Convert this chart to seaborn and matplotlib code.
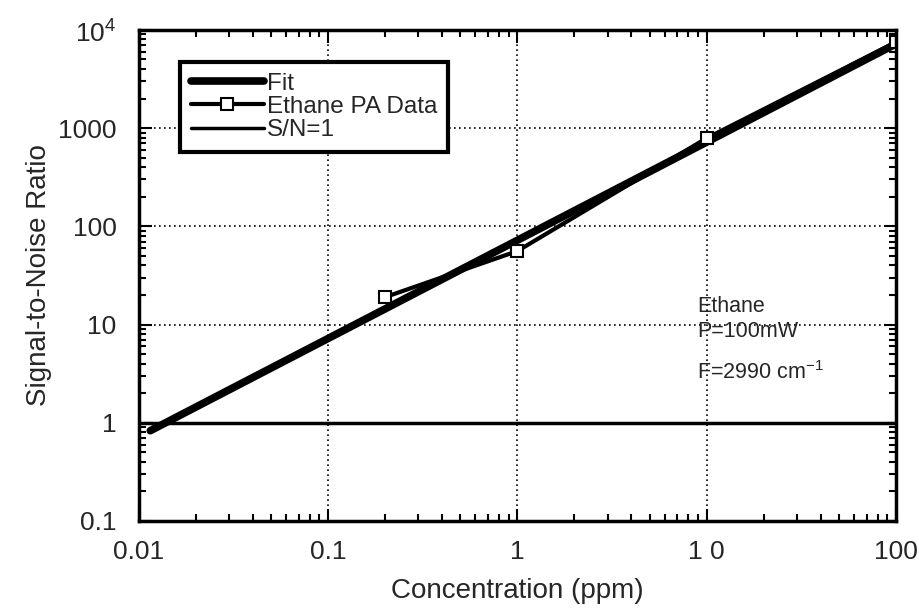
import numpy as np
import pandas as pd
import matplotlib
matplotlib.use("Agg")
import matplotlib.pyplot as plt
import seaborn as sns

# values
conc = [0.2, 1, 10, 100]
snr = [19, 56, 790, 7500]

fit_x = [0.0115, 100]
fit_y = [0.83, 7200]

sn1_x = [0.01, 100]
sn1_y = [1, 1]

x_ticks = [0.01, 0.1, 1, 10, 100]
x_labels = ["0.01", "0.1", "1", "1 0", "100"]
y_ticks = [0.1, 1, 10, 100, 1000, 10000]
y_labels = ["0.1", "1", "10", "100", "1000", "$10^4$"]

sns.set_style("ticks")
plt.rcParams['font.family'] = ['Liberation Sans', 'DejaVu Sans']
plt.rcParams['mathtext.fontset'] = 'custom'
plt.rcParams['mathtext.rm'] = 'Liberation Sans'

fig = plt.figure(figsize=(9.19, 6.09), dpi=100)
ax = fig.add_axes([0.151, 0.1445, 0.824, 0.8065])

fit_df = pd.DataFrame({'x': fit_x, 'y': fit_y})
data_df = pd.DataFrame({'x': conc, 'y': snr})
sn1_df = pd.DataFrame({'x': sn1_x, 'y': sn1_y})

sns.lineplot(data=fit_df, x='x', y='y', ax=ax, color='black', lw=5.5, label='Fit')
sns.lineplot(data=data_df, x='x', y='y', ax=ax, color='black', lw=3, marker='s',
             markersize=8, markerfacecolor='white', markeredgecolor='black',
             markeredgewidth=1.5, label='Ethane PA Data')
sns.lineplot(data=sn1_df, x='x', y='y', ax=ax, color='black', lw=2.5, label='S/N=1')

ax.set_xscale('log')
ax.set_yscale('log')
ax.set_xlim(0.01, 100)
ax.set_ylim(0.1, 10000)
ax.set_xticks(x_ticks)
ax.set_xticklabels(x_labels)
ax.set_yticks(y_ticks)
ax.set_yticklabels(y_labels)

ax.grid(True, which='major', color='black', linestyle=(0, (1, 2)), lw=1.2)
ax.tick_params(which='both', direction='in', top=True, right=True, color='black')
ax.tick_params(which='major', length=9, width=1.5, labelsize=19)
ax.tick_params(axis='x', which='major', pad=14)
ax.tick_params(axis='y', which='major', pad=16)
ax.tick_params(which='minor', length=5, width=1.5)
for s in ax.spines.values():
    s.set_linewidth(2.5)
    s.set_color('black')

ax.set_xlabel('Concentration (ppm)', fontsize=20, labelpad=10)
ax.set_ylabel('Signal-to-Noise Ratio', fontsize=20, labelpad=4)

leg = ax.legend(loc='upper left', bbox_to_anchor=(0.054, 0.935), fontsize=17.5,
                frameon=True, fancybox=False, handlelength=3.0, borderpad=0.45,
                labelspacing=0.05, handletextpad=0.15, borderaxespad=0)
leg.get_frame().set_edgecolor('black')
leg.get_frame().set_linewidth(3)
leg.get_frame().set_alpha(1)

ax.text(0.737, 0.425, 'Ethane', transform=ax.transAxes, fontsize=15.5)
ax.text(0.737, 0.375, 'P=100mW', transform=ax.transAxes, fontsize=15.5)
ax.text(0.737, 0.29, 'F=2990 cm$^{-1}$', transform=ax.transAxes, fontsize=15.5)

plt.savefig('out.png', dpi=100)
